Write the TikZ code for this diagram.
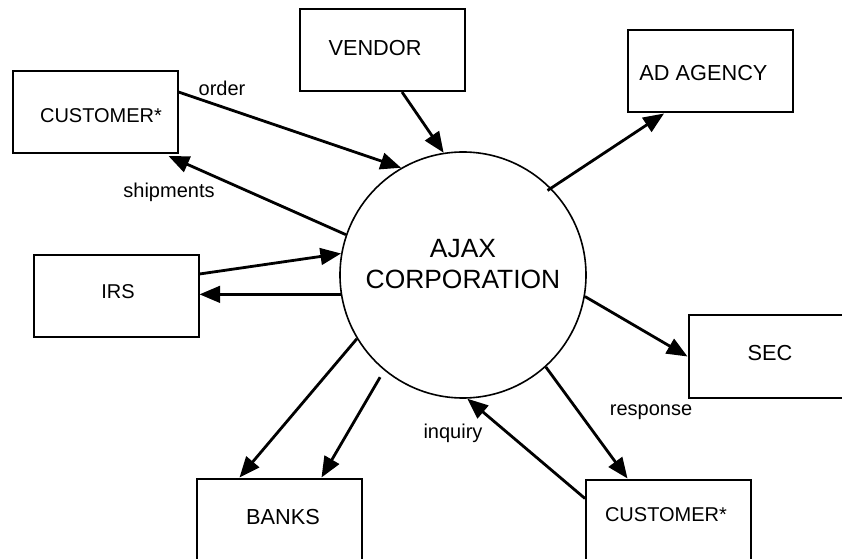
\documentclass[tikz,border=0pt]{standalone}
\usepackage{fontspec}
\setmainfont{Liberation Sans}
\usetikzlibrary{arrows.meta,calc}
\begin{document}
\begin{tikzpicture}[x=0.75pt,y=-0.75pt,
  box/.style={draw,line width=1.5pt,minimum width=123.75pt,minimum height=61.5pt,inner sep=0pt},
  big/.style={font=\fontsize{16.3}{19}\selectfont,inner sep=0pt},
  small/.style={font=\fontsize{15}{18}\selectfont,inner sep=0pt},
  proc/.style={draw,circle,line width=1.2pt,minimum size=184.5pt,inner sep=0pt},
  flow/.style={line width=2.1pt,-{Triangle[length=15.5pt,width=12.5pt]}},
  lbl/.style={font=\fontsize{15}{18}\selectfont,inner sep=0pt}]
\useasboundingbox (0,0) rectangle (842,559);
\clip (0,0) rectangle (842,559);
\node[proc, label={[yshift=7.9pt,align=center,font=\fontsize{19.8}{23.25}\selectfont]center:AJAX\\CORPORATION}] (ajax) at (463,275) {};
\node[box, label={[big,xshift=-5.25pt,yshift=1.5pt]center:VENDOR}] (vendor) at (382,50) {};
\node[box, label={[big,xshift=-4.9pt,yshift=-1.1pt]center:AD AGENCY}] (ad) at (710,71.5) {};
\node[box, label={[small,xshift=4.5pt,yshift=-3pt]center:CUSTOMER*}] (cust1) at (95,112) {};
\node[box, label={[small,xshift=1.5pt,yshift=3pt]center:IRS}] (irs) at (116,296) {};
\node[box, label={[big,xshift=-0.75pt,yshift=2.6pt]center:SEC}] (sec) at (771,356.5) {};
\node[box, label={[big,xshift=2.6pt,yshift=1.9pt]center:BANKS}] (banks) at (279.5,519.5) {};
\node[box, label={[small,xshift=-1.9pt,yshift=4.1pt]center:CUSTOMER*}] (cust2) at (668.5,520.5) {};
% flows
\draw[flow] ($(cust1.east)+(0,-20)$) -- (ajax.120);
\draw[flow] (ajax.161) -- ($(cust1.south east)+(-10,2)$);
\draw[flow] ($(vendor.south)+(20,0)$) -- (ajax.99);
\draw[flow] ($(irs.east)+(0,-22)$) -- (ajax.170);
\draw[flow] (ajax.189) -- (ajax.189 -| irs.east);
\draw[flow] ($(ajax.45)+(-3,3)$) -- ($(ad.south)+(-46,0)$);
\draw[flow] (ajax.350) -- (sec.west);
\draw[flow] (ajax.312) -- ($(cust2.north)+(-41,0)$);
\draw[flow] ($(cust2.west)+(0,-22)$) -- (ajax.272);
\draw[flow] (ajax.211) -- ($(banks.north)+(-40,0)$);
\draw[flow] ($(ajax.231)+(-5,6)$) -- ($(banks.north)+(42,0)$);
% labels
\node[lbl] (lorder) at (222,88) {order};
\node[lbl] (lship) at (169,192) {shipments};
\node[lbl] (lresp) at (651,412) {response};
\node[lbl] (linq) at (453,433) {inquiry};
\end{tikzpicture}
\end{document}
